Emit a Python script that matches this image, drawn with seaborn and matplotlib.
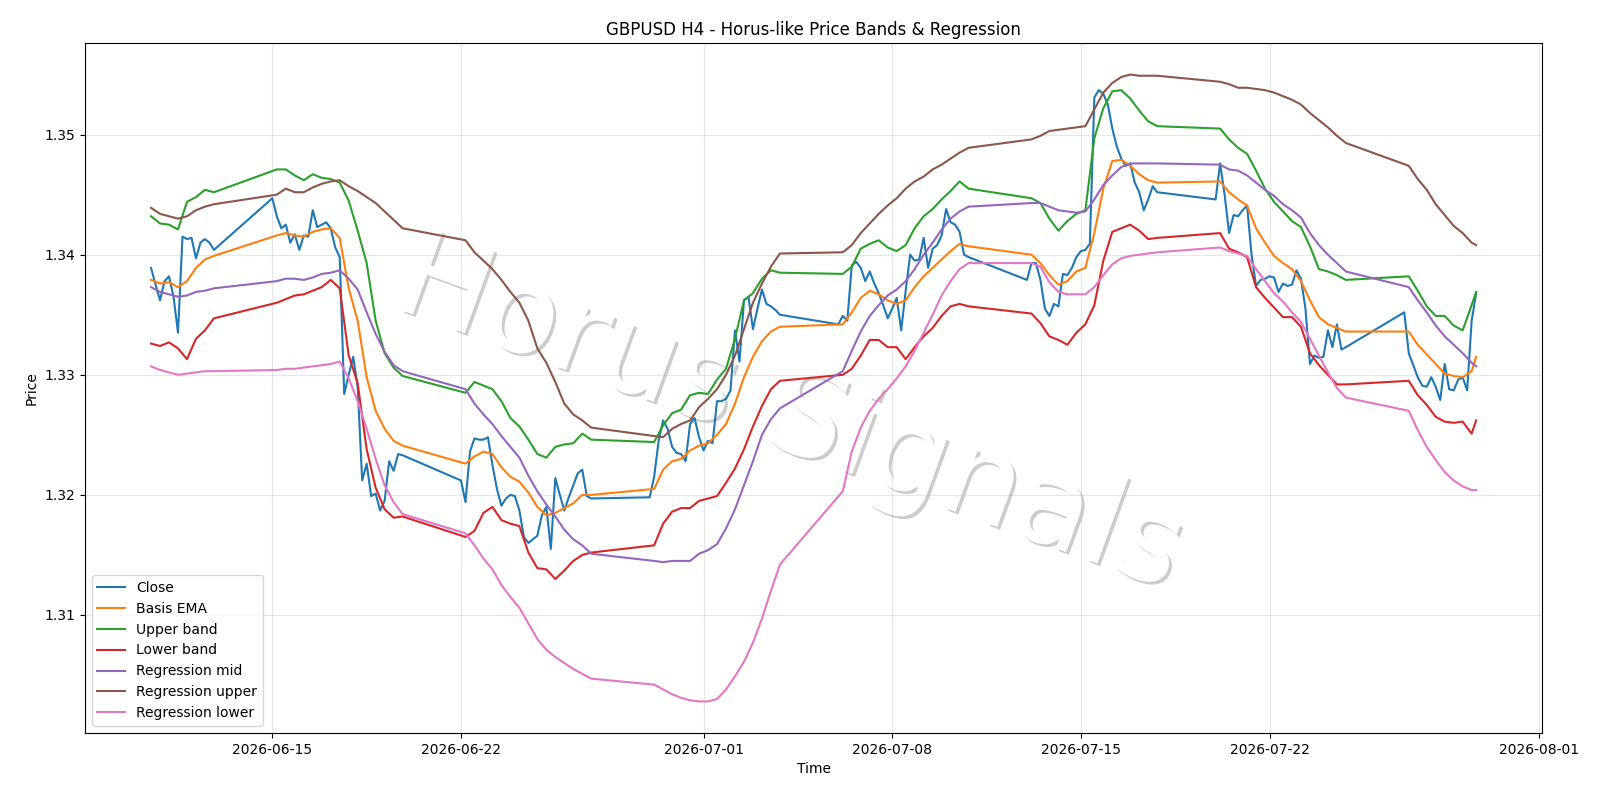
import numpy as np
import pandas as pd
import matplotlib
matplotlib.use("Agg")
import matplotlib.pyplot as plt
from matplotlib import patheffects as pe
import seaborn as sns

# H4 bars, weekdays only
bars = pd.date_range("2026-06-10 12:00", "2026-07-29 16:00", freq="4h")
bars = bars[bars.dayofweek < 5]
# smoother series are read every second bar (+ last bar)
sel = np.r_[0:len(bars):2, len(bars) - 1]
bars_s = bars[sel]

close = [
    1.3389, 1.3375, 1.3362, 1.3378, 1.3382, 1.3365, 1.3335, 1.3415, 1.3413, 1.3414, 1.3397, 1.3410, 1.3413, 1.3410, 1.3404,
    1.3447, 1.3432, 1.3422, 1.3425, 1.3410, 1.3417, 1.3404, 1.3416, 1.3415, 1.3437, 1.3423, 1.3425, 1.3427, 1.3422, 1.3406,
    1.3398, 1.3284, 1.3300, 1.3315, 1.3290, 1.3212, 1.3226, 1.3199, 1.3201, 1.3187, 1.3195, 1.3228, 1.3220, 1.3234, 1.3233,
    1.3212, 1.3194, 1.3236, 1.3247, 1.3246, 1.3246, 1.3248, 1.3225, 1.3205, 1.3191, 1.3197, 1.3200, 1.3199, 1.3187, 1.3165,
    1.3160, 1.3163, 1.3166, 1.3183, 1.3190, 1.3155, 1.3214, 1.3200, 1.3187, 1.3198, 1.3208, 1.3218, 1.3221, 1.3199, 1.3197,
    1.3198, 1.3215, 1.3245, 1.3262, 1.3255, 1.3240, 1.3235, 1.3234, 1.3228, 1.3259, 1.3264, 1.3248, 1.3237, 1.3245, 1.3243,
    1.3278, 1.3278, 1.3280, 1.3287, 1.3337, 1.3311, 1.3362, 1.3365, 1.3338, 1.3355, 1.3371, 1.3359, 1.3357, 1.3354, 1.3350,
    1.3342, 1.3349, 1.3345, 1.3391, 1.3394, 1.3389, 1.3378, 1.3386, 1.3376, 1.3368, 1.3358, 1.3347, 1.3355, 1.3364, 1.3337,
    1.3370, 1.3400, 1.3395, 1.3396, 1.3414, 1.3389, 1.3405, 1.3408, 1.3416, 1.3438, 1.3427, 1.3425, 1.3419, 1.3400, 1.3398,
    1.3379, 1.3393, 1.3393, 1.3379, 1.3355, 1.3349, 1.3359, 1.3357, 1.3384, 1.3383, 1.3389, 1.3398, 1.3403, 1.3404, 1.3409,
    1.3531, 1.3537, 1.3534, 1.3525, 1.3505, 1.3490, 1.3480, 1.3474, 1.3476, 1.3460, 1.3452, 1.3437, 1.3446, 1.3457, 1.3452,
    1.3446, 1.3476, 1.3450, 1.3418, 1.3433, 1.3432, 1.3437, 1.3441, 1.3400, 1.3374, 1.3379, 1.3380, 1.3382, 1.3381, 1.3369,
    1.3376, 1.3374, 1.3375, 1.3387, 1.3380, 1.3355, 1.3309, 1.3316, 1.3314, 1.3315, 1.3337, 1.3323, 1.3342, 1.3321, 1.3323,
    1.3352, 1.3318, 1.3308, 1.3298, 1.3291, 1.3290, 1.3298, 1.3290, 1.3279, 1.3309, 1.3288, 1.3287, 1.3296, 1.3298, 1.3287,
    1.3345, 1.3368,
]

basis = [
    1.3379, 1.3376, 1.3377, 1.3373, 1.3378, 1.3389, 1.3396, 1.3399,
    1.3416, 1.3418, 1.3416, 1.3415, 1.3419, 1.3421, 1.3422, 1.3414, 1.3372, 1.3345, 1.3298, 1.3270, 1.3255, 1.3245, 1.3241,
    1.3226, 1.3232, 1.3236, 1.3234, 1.3223, 1.3215, 1.3211, 1.3202, 1.3190, 1.3183, 1.3185, 1.3189, 1.3193, 1.3200, 1.3200,
    1.3205, 1.3221, 1.3228, 1.3230, 1.3237, 1.3241, 1.3243, 1.3250, 1.3259, 1.3276, 1.3298, 1.3315, 1.3328, 1.3336, 1.3340,
    1.3342, 1.3352, 1.3364, 1.3370, 1.3367, 1.3362, 1.3359, 1.3362, 1.3373, 1.3382, 1.3389, 1.3396, 1.3403, 1.3409, 1.3407,
    1.3400, 1.3393, 1.3383, 1.3375, 1.3378, 1.3386, 1.3389, 1.3418, 1.3455, 1.3478, 1.3479, 1.3474, 1.3467, 1.3462, 1.3460,
    1.3461, 1.3452, 1.3446, 1.3441, 1.3422, 1.3410, 1.3399, 1.3393, 1.3388, 1.3378, 1.3362, 1.3348, 1.3342, 1.3339, 1.3336,
    1.3336, 1.3325, 1.3317, 1.3309, 1.3301, 1.3299, 1.3298, 1.3303, 1.3315,
]

upper = [
    1.3432, 1.3426, 1.3425, 1.3421, 1.3444, 1.3448, 1.3454, 1.3452,
    1.3471, 1.3471, 1.3466, 1.3462, 1.3467, 1.3464, 1.3463, 1.3460, 1.3445, 1.3420, 1.3393, 1.3345, 1.3318, 1.3306, 1.3299,
    1.3285, 1.3294, 1.3291, 1.3288, 1.3278, 1.3264, 1.3257, 1.3246, 1.3234, 1.3231, 1.3240, 1.3242, 1.3243, 1.3251, 1.3246,
    1.3244, 1.3258, 1.3268, 1.3271, 1.3283, 1.3285, 1.3284, 1.3296, 1.3305, 1.3330, 1.3362, 1.3368, 1.3380, 1.3387, 1.3385,
    1.3384, 1.3390, 1.3405, 1.3409, 1.3412, 1.3406, 1.3403, 1.3408, 1.3422, 1.3432, 1.3438, 1.3446, 1.3453, 1.3461, 1.3455,
    1.3447, 1.3443, 1.3430, 1.3420, 1.3428, 1.3434, 1.3437, 1.3497, 1.3522, 1.3536, 1.3537, 1.3530, 1.3520, 1.3511, 1.3507,
    1.3505, 1.3496, 1.3489, 1.3484, 1.3470, 1.3455, 1.3444, 1.3436, 1.3428, 1.3423, 1.3407, 1.3388, 1.3386, 1.3383, 1.3379,
    1.3382, 1.3370, 1.3357, 1.3349, 1.3349, 1.3341, 1.3337, 1.3358, 1.3369,
]

lower = [
    1.3326, 1.3324, 1.3327, 1.3322, 1.3313, 1.3330, 1.3337, 1.3347,
    1.3360, 1.3363, 1.3366, 1.3367, 1.3370, 1.3373, 1.3379, 1.3372, 1.3316, 1.3293, 1.3238, 1.3206, 1.3188, 1.3181, 1.3182,
    1.3165, 1.3170, 1.3185, 1.3190, 1.3179, 1.3176, 1.3174, 1.3152, 1.3139, 1.3138, 1.3130, 1.3137, 1.3145, 1.3150, 1.3152,
    1.3158, 1.3176, 1.3186, 1.3189, 1.3189, 1.3195, 1.3197, 1.3199, 1.3210, 1.3222, 1.3238, 1.3257, 1.3274, 1.3288, 1.3295,
    1.3300, 1.3305, 1.3316, 1.3329, 1.3329, 1.3323, 1.3323, 1.3313, 1.3323, 1.3332, 1.3339, 1.3349, 1.3357, 1.3359, 1.3357,
    1.3351, 1.3343, 1.3332, 1.3329, 1.3325, 1.3335, 1.3342, 1.3358, 1.3395, 1.3419, 1.3422, 1.3425, 1.3420, 1.3413, 1.3414,
    1.3418, 1.3405, 1.3402, 1.3398, 1.3373, 1.3364, 1.3356, 1.3348, 1.3348, 1.3340, 1.3318, 1.3308, 1.3300, 1.3292, 1.3292,
    1.3295, 1.3283, 1.3275, 1.3265, 1.3261, 1.3260, 1.3261, 1.3251, 1.3262,
]

reg_mid = [
    1.3373, 1.3369, 1.3367, 1.3365, 1.3366, 1.3369, 1.3370, 1.3372,
    1.3378, 1.3380, 1.3380, 1.3379, 1.3381, 1.3384, 1.3385, 1.3387, 1.3380, 1.3371, 1.3352, 1.3334, 1.3319, 1.3308, 1.3303,
    1.3288, 1.3276, 1.3267, 1.3259, 1.3249, 1.3240, 1.3231, 1.3216, 1.3203, 1.3192, 1.3182, 1.3171, 1.3163, 1.3158, 1.3151,
    1.3145, 1.3144, 1.3145, 1.3145, 1.3145, 1.3151, 1.3154, 1.3159, 1.3172, 1.3188, 1.3208, 1.3228, 1.3250, 1.3263, 1.3272,
    1.3303, 1.3320, 1.3336, 1.3349, 1.3358, 1.3366, 1.3371, 1.3378, 1.3388, 1.3400, 1.3410, 1.3421, 1.3430, 1.3436, 1.3440,
    1.3443, 1.3443, 1.3440, 1.3437, 1.3436, 1.3435, 1.3436, 1.3446, 1.3458, 1.3466, 1.3473, 1.3476, 1.3476, 1.3476, 1.3476,
    1.3475, 1.3471, 1.3470, 1.3466, 1.3460, 1.3454, 1.3449, 1.3442, 1.3437, 1.3431, 1.3418, 1.3408, 1.3400, 1.3393, 1.3386,
    1.3373, 1.3362, 1.3352, 1.3341, 1.3332, 1.3325, 1.3318, 1.3310, 1.3307,
]

reg_upper = [
    1.3439, 1.3434, 1.3432, 1.3430, 1.3432, 1.3437, 1.3440, 1.3442,
    1.3450, 1.3455, 1.3452, 1.3452, 1.3456, 1.3459, 1.3461, 1.3462, 1.3457, 1.3453, 1.3448, 1.3443, 1.3436, 1.3429, 1.3422,
    1.3412, 1.3402, 1.3395, 1.3388, 1.3379, 1.3369, 1.3360, 1.3345, 1.3322, 1.3310, 1.3294, 1.3276, 1.3267, 1.3262, 1.3256,
    1.3249, 1.3248, 1.3255, 1.3259, 1.3262, 1.3273, 1.3280, 1.3288, 1.3300, 1.3316, 1.3338, 1.3360, 1.3376, 1.3390, 1.3401,
    1.3402, 1.3408, 1.3418, 1.3426, 1.3434, 1.3441, 1.3447, 1.3455, 1.3461, 1.3465, 1.3471, 1.3475, 1.3480, 1.3485, 1.3489,
    1.3496, 1.3499, 1.3503, 1.3504, 1.3505, 1.3506, 1.3507, 1.3521, 1.3535, 1.3543, 1.3548, 1.3550, 1.3549, 1.3549, 1.3549,
    1.3544, 1.3542, 1.3539, 1.3539, 1.3538, 1.3537, 1.3535, 1.3532, 1.3529, 1.3525, 1.3518, 1.3512, 1.3506, 1.3499, 1.3493,
    1.3474, 1.3463, 1.3454, 1.3442, 1.3433, 1.3424, 1.3418, 1.3410, 1.3408,
]

reg_lower = [
    1.3307, 1.3304, 1.3302, 1.3300, 1.3301, 1.3302, 1.3303, 1.3303,
    1.3304, 1.3305, 1.3305, 1.3306, 1.3307, 1.3308, 1.3309, 1.3311, 1.3297, 1.3278, 1.3255, 1.3230, 1.3208, 1.3194, 1.3184,
    1.3168, 1.3158, 1.3147, 1.3138, 1.3125, 1.3115, 1.3106, 1.3093, 1.3080, 1.3071, 1.3065, 1.3060, 1.3055, 1.3051, 1.3047,
    1.3042, 1.3038, 1.3034, 1.3031, 1.3029, 1.3028, 1.3028, 1.3030, 1.3038, 1.3049, 1.3061, 1.3077, 1.3097, 1.3120, 1.3142,
    1.3203, 1.3236, 1.3256, 1.3270, 1.3280, 1.3288, 1.3297, 1.3307, 1.3320, 1.3335, 1.3350, 1.3366, 1.3378, 1.3388, 1.3393,
    1.3393, 1.3390, 1.3377, 1.3369, 1.3367, 1.3367, 1.3367, 1.3373, 1.3383, 1.3392, 1.3397, 1.3399, 1.3400, 1.3401, 1.3402,
    1.3406, 1.3403, 1.3401, 1.3399, 1.3388, 1.3378, 1.3368, 1.3361, 1.3352, 1.3344, 1.3330, 1.3316, 1.3302, 1.3289, 1.3281,
    1.3270, 1.3254, 1.3240, 1.3229, 1.3219, 1.3212, 1.3207, 1.3204, 1.3204,
]

fig, ax = plt.subplots(figsize=(16, 8), dpi=100)
fig.subplots_adjust(left=0.053, right=0.964, top=0.946, bottom=0.084)

series = [
    (bars, close, "Close"),
    (bars_s, basis, "Basis EMA"),
    (bars_s, upper, "Upper band"),
    (bars_s, lower, "Lower band"),
    (bars_s, reg_mid, "Regression mid"),
    (bars_s, reg_upper, "Regression upper"),
    (bars_s, reg_lower, "Regression lower"),
]
for i, (x, y, name) in enumerate(series):
    sns.lineplot(x=x, y=y, label=name, color=f"C{i}", linewidth=1.5,
                 estimator=None, sort=False, ax=ax, zorder=3)

# watermark: white text with a soft grey drop shadow, under the grid and lines
ax.text(0.494, 0.48, "Horus Signals", transform=fig.transFigure,
        ha="center", va="center", fontsize=87, rotation=-20,
        color="white", zorder=1,
        path_effects=[pe.withSimplePatchShadow(offset=(2, -2), shadow_rgbFace="gray", alpha=0.4)])

ax.set_title("GBPUSD H4 - Horus-like Price Bands & Regression")
ax.set_xlabel("Time")
ax.set_ylabel("Price")
ax.grid(True, alpha=0.3)
ax.legend(loc="lower left")

plt.savefig("out.png")
